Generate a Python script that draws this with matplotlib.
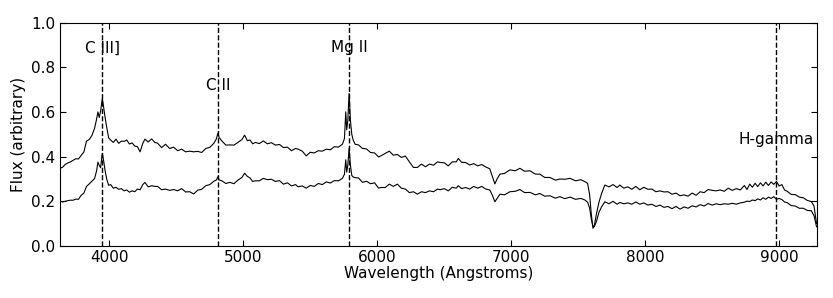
import numpy as np
import matplotlib
matplotlib.use("Agg")
import matplotlib.pyplot as plt

# wavelength grid (Angstroms) shared by both spectra
wavelength = [
    3630, 3650, 3670, 3690, 3710, 3730, 3750, 3770, 3790, 3810, 3830, 3850,
    3870, 3890, 3905, 3915, 3925, 3935, 3948, 3958, 3968, 3980, 3995, 4010,
    4030, 4050, 4070, 4090, 4110, 4130, 4150, 4170, 4190, 4210, 4230, 4250,
    4266, 4290, 4316, 4340, 4360, 4390, 4420, 4450, 4480, 4510, 4540, 4570,
    4600, 4630, 4660, 4690, 4720, 4750, 4780, 4800, 4810, 4820, 4840, 4870,
    4900, 4930, 4960, 4990, 5010, 5030, 5050, 5070, 5090, 5120, 5150, 5180,
    5210, 5240, 5270, 5300, 5330, 5360, 5390, 5410, 5440, 5470, 5500, 5530,
    5560, 5590, 5620, 5650, 5680, 5710, 5740, 5755, 5765, 5772, 5780, 5790,
    5800, 5810, 5820, 5835, 5860, 5890, 5920, 5950, 5980, 6010, 6030, 6060,
    6090, 6120, 6150, 6180, 6210, 6240, 6270, 6300, 6330, 6360, 6390, 6420,
    6450, 6470, 6500, 6530, 6560, 6590, 6605, 6630, 6660, 6690, 6720, 6750,
    6780, 6810, 6840, 6860, 6878, 6895, 6916, 6950, 6990, 7030, 7065, 7100,
    7140, 7180, 7214, 7250, 7289, 7330, 7363, 7400, 7440, 7480, 7520, 7550,
    7570, 7585, 7598, 7610, 7620, 7637, 7655, 7675, 7699, 7730, 7760, 7790,
    7811, 7840, 7870, 7900, 7930, 7960, 7990, 8020, 8050, 8080, 8110, 8140,
    8170, 8200, 8230, 8260, 8290, 8320, 8350, 8380, 8410, 8440, 8470, 8500,
    8530, 8560, 8590, 8620, 8650, 8680, 8710, 8740, 8760, 8780, 8800, 8820,
    8840, 8860, 8880, 8900, 8920, 8940, 8960, 8980, 9000, 9020, 9040, 9060,
    9090, 9120, 9150, 9180, 9210, 9240, 9260, 9279,
]

flux_upper = [
    .348, .351, .364, .371, .376, .383, .390, .389, .405, .420, .469, .476,
    .494, .526, .567, .600, .575, .603, .661, .620, .578, .534, .484, .474,
    .463, .478, .459, .469, .468, .474, .456, .461, .447, .444, .421, .459,
    .478, .465, .479, .463, .460, .440, .455, .436, .442, .426, .433, .421,
    .424, .421, .423, .418, .436, .441, .459, .480, .504, .485, .470, .451,
    .452, .451, .463, .476, .496, .471, .474, .457, .463, .458, .470, .457,
    .462, .451, .454, .440, .442, .426, .436, .433, .424, .403, .419, .416,
    .426, .424, .433, .430, .444, .442, .455, .480, .600, .520, .560, .683,
    .560, .500, .474, .455, .452, .436, .434, .418, .416, .398, .404, .414,
    .424, .406, .409, .396, .402, .376, .351, .351, .366, .354, .366, .361,
    .376, .373, .372, .358, .376, .376, .391, .374, .373, .362, .368, .358,
    .364, .353, .345, .310, .277, .300, .321, .324, .340, .336, .347, .334,
    .336, .321, .321, .306, .306, .294, .299, .298, .302, .291, .296, .287,
    .280, .230, .140, .078, .090, .145, .195, .235, .272, .264, .274, .261,
    .272, .258, .264, .253, .266, .251, .262, .253, .254, .242, .246, .241,
    .242, .231, .236, .224, .228, .222, .236, .226, .242, .238, .252, .248,
    .246, .250, .244, .258, .248, .256, .250, .270, .252, .276, .262, .280,
    .265, .282, .268, .285, .270, .286, .275, .288, .268, .274, .250, .244,
    .230, .229, .218, .215, .203, .198, .178, .100,
]

flux_lower = [
    .201, .196, .199, .202, .204, .204, .209, .208, .226, .236, .266, .277,
    .289, .301, .335, .375, .360, .350, .414, .380, .339, .300, .271, .274,
    .258, .262, .253, .256, .246, .250, .240, .246, .242, .254, .251, .274,
    .284, .264, .269, .266, .266, .251, .254, .248, .252, .246, .256, .241,
    .242, .232, .249, .253, .269, .274, .289, .295, .309, .295, .291, .279,
    .284, .278, .294, .306, .325, .311, .304, .288, .291, .291, .302, .296,
    .298, .288, .292, .276, .282, .268, .274, .264, .268, .258, .270, .266,
    .279, .274, .286, .281, .292, .291, .302, .320, .385, .330, .360, .437,
    .360, .315, .308, .305, .304, .284, .289, .278, .282, .258, .261, .261,
    .276, .266, .276, .258, .254, .238, .242, .231, .242, .238, .246, .242,
    .254, .251, .256, .246, .262, .258, .269, .256, .261, .254, .266, .258,
    .266, .254, .250, .225, .197, .212, .231, .228, .242, .244, .252, .238,
    .239, .228, .234, .222, .224, .213, .220, .211, .218, .208, .212, .205,
    .195, .170, .118, .088, .085, .110, .150, .175, .197, .188, .199, .186,
    .194, .188, .192, .186, .196, .186, .192, .182, .186, .176, .182, .172,
    .176, .166, .176, .164, .174, .168, .179, .174, .184, .178, .189, .182,
    .188, .184, .188, .186, .190, .186, .192, .195, .200, .198, .205, .202,
    .210, .205, .215, .208, .218, .212, .220, .208, .212, .207, .196, .193,
    .180, .178, .168, .168, .158, .157, .135, .085,
]

# emission lines: observed wavelength and label
line_names = ["C III]", "C II", "Mg II", "H-gamma"]
line_waves = [3948, 4810, 5789, 8977]
label_heights = [0.885, 0.72, 0.89, 0.478]

fig = plt.figure(figsize=(8.33, 2.98), dpi=100)
ax = fig.add_axes([0.0717, 0.1755, 0.9087, 0.7483])

ax.plot(wavelength, flux_upper, color="black", lw=0.8)
ax.plot(wavelength, flux_lower, color="black", lw=0.8)

for name, w, h in zip(line_names, line_waves, label_heights):
    ax.axvline(w, color="black", ls="--", lw=1.0)
    ax.text(w, h, name, ha="center", va="center", fontsize=11)

ax.set_xlim(3630, 9280)
ax.set_ylim(0, 1.0)
ax.set_xticks([4000, 5000, 6000, 7000, 8000, 9000])
ax.set_yticks([0.0, 0.2, 0.4, 0.6, 0.8, 1.0])
ax.tick_params(direction="in", top=True, right=True, labelsize=11, length=4, pad=3)
ax.set_xlabel("Wavelength (Angstroms)", fontsize=11, labelpad=1)
ax.set_ylabel("Flux (arbitrary)", fontsize=11, labelpad=4)

fig.savefig("out.png", dpi=100)
